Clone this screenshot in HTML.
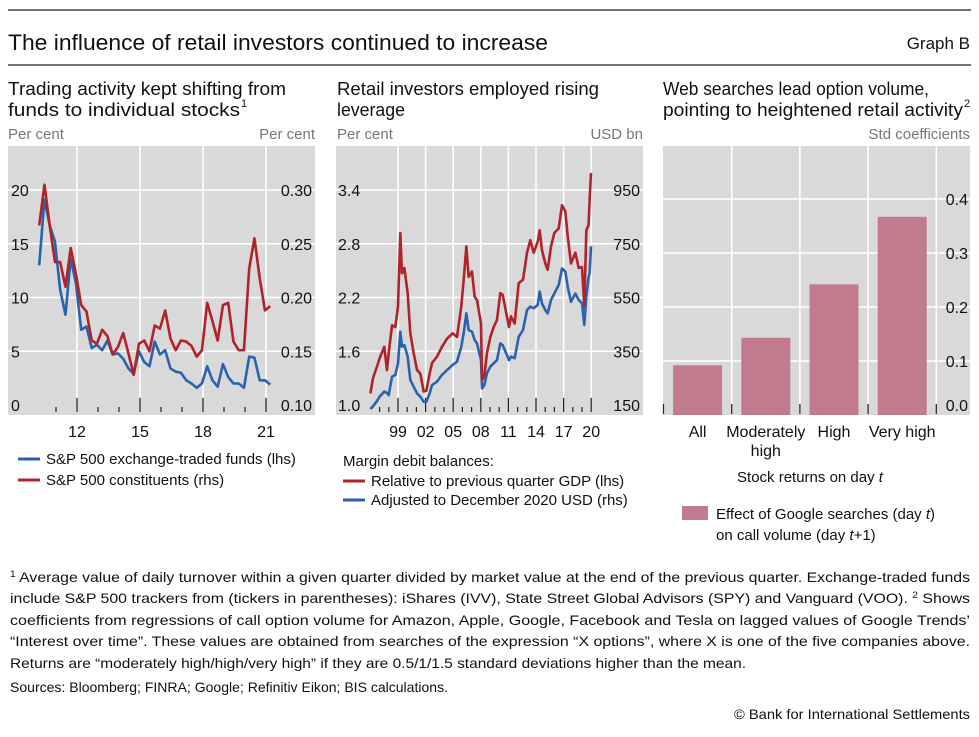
<!DOCTYPE html>
<html><head><meta charset="utf-8"><style>
body{margin:0;background:#fff}
svg{display:block;font-family:"Liberation Sans",sans-serif}
</style></head><body>
<svg id="s" width="979" height="737" viewBox="0 0 979 737" xmlns="http://www.w3.org/2000/svg">
<line x1="8" y1="10" x2="971" y2="10" stroke="#222" stroke-width="1.2"/>
<text x="8" y="50" font-size="22" textLength="540" lengthAdjust="spacingAndGlyphs" fill="#111">The influence of retail investors continued to increase</text>
<text x="970" y="49" font-size="17" text-anchor="end" fill="#111">Graph B</text>
<line x1="8" y1="65" x2="971" y2="65" stroke="#222" stroke-width="1.2"/>

<g font-size="18" fill="#111">
<text x="8" y="95" textLength="278" lengthAdjust="spacingAndGlyphs">Trading activity kept shifting from</text>
<text x="8" y="116" textLength="232" lengthAdjust="spacingAndGlyphs">funds to individual stocks</text>
<text x="241" y="107" font-size="11">1</text>
<text x="337" y="95" textLength="262" lengthAdjust="spacingAndGlyphs">Retail investors employed rising</text>
<text x="337" y="116" textLength="68" lengthAdjust="spacingAndGlyphs">leverage</text>
<text x="663" y="95" textLength="266" lengthAdjust="spacingAndGlyphs">Web searches lead option volume,</text>
<text x="663" y="116" textLength="300" lengthAdjust="spacingAndGlyphs">pointing to heightened retail activity</text>
<text x="964" y="107" font-size="11">2</text>
</g>
<g font-size="15" fill="#777">
<text x="8" y="139">Per cent</text>
<text x="315" y="139" text-anchor="end">Per cent</text>
<text x="337" y="139">Per cent</text>
<text x="643" y="139" text-anchor="end">USD bn</text>
<text x="970" y="139" text-anchor="end">Std coefficients</text>
</g>
<g id="p1"></g>
<g id="p2"></g>
<g id="p3"></g>

<g font-size="15" fill="#111">
<line x1="18" y1="459" x2="40" y2="459" stroke="#2a62b0" stroke-width="3"/>
<text x="46" y="464">S&amp;P 500 exchange-traded funds (lhs)</text>
<line x1="18" y1="480" x2="40" y2="480" stroke="#b0232a" stroke-width="3"/>
<text x="46" y="485">S&amp;P 500 constituents (rhs)</text>
<text x="343" y="466">Margin debit balances:</text>
<line x1="343" y1="481" x2="365" y2="481" stroke="#b0232a" stroke-width="3"/>
<text x="371" y="486">Relative to previous quarter GDP (lhs)</text>
<line x1="343" y1="500" x2="365" y2="500" stroke="#2a62b0" stroke-width="3"/>
<text x="371" y="505">Adjusted to December 2020 USD (rhs)</text>
<text x="810" y="482" text-anchor="middle">Stock returns on day <tspan font-style="italic">t</tspan></text>
<rect x="682" y="506" width="26" height="14" fill="#c27b8e"/>
<text x="716" y="519">Effect of Google searches (day <tspan font-style="italic">t</tspan>)</text>
<text x="716" y="540">on call volume (day <tspan font-style="italic">t</tspan>+1)</text>
</g>

<g font-size="14" fill="#111">
<text x="10" y="582" textLength="960" lengthAdjust="spacingAndGlyphs"><tspan font-size="9" dy="-5">1</tspan><tspan dy="5">  Average value of daily turnover within a given quarter divided by market value at the end of the previous quarter. Exchange-traded funds</tspan></text>
<text x="10" y="603" textLength="960" lengthAdjust="spacingAndGlyphs">include S&amp;P 500 trackers from (tickers in parentheses): iShares (IVV), State Street Global Advisors (SPY) and Vanguard (VOO).  <tspan font-size="9" dy="-5">2</tspan><tspan dy="5"> Shows</tspan></text>
<text x="10" y="625" textLength="960" lengthAdjust="spacingAndGlyphs">coefficients from regressions of call option volume for Amazon, Apple, Google, Facebook and Tesla on lagged values of Google Trends’</text>
<text x="10" y="646" textLength="960" lengthAdjust="spacingAndGlyphs">“Interest over time”. These values are obtained from searches of the expression “X options”, where X is one of the five companies above.</text>
<text x="10" y="668" textLength="736" lengthAdjust="spacingAndGlyphs">Returns are “moderately high/high/very high” if they are 0.5/1/1.5 standard deviations higher than the mean.</text>
<text x="10" y="692" textLength="438" lengthAdjust="spacingAndGlyphs">Sources: Bloomberg; FINRA; Google; Refinitiv Eikon; BIS calculations.</text>
<text x="970" y="719" text-anchor="end" textLength="236" lengthAdjust="spacingAndGlyphs">© Bank for International Settlements</text>
</g>
</svg>
<script>
// Panel 1 data (quarterly from 2010.2)
const p1Start = 2010.2;
const p1Etf = [13.0,19.1,16.7,15.2,10.7,8.4,13.6,11.3,7.0,7.3,5.3,5.6,5.1,6.0,4.7,4.8,4.3,3.4,2.9,5.0,4.0,3.6,5.9,4.7,5.1,3.4,3.1,3.0,2.3,2.0,1.6,2.0,3.6,2.3,1.7,3.8,2.6,2.0,2.0,1.6,4.5,4.4,2.3,2.3,1.9];
const p1Const = [0.267,0.305,0.267,0.233,0.233,0.210,0.246,0.222,0.193,0.187,0.160,0.157,0.170,0.164,0.147,0.154,0.167,0.148,0.128,0.157,0.160,0.150,0.174,0.171,0.188,0.162,0.151,0.160,0.159,0.155,0.145,0.151,0.195,0.178,0.160,0.193,0.195,0.159,0.151,0.151,0.227,0.255,0.218,0.188,0.192];
const p1LeftTicks = [0,5,10,15,20];
const p1RightTicks = ["0.10","0.15","0.20","0.25","0.30"];
const p1XLabels = [12,15,18,21];
// Panel 2 data
const p2Years = [1996.0,1996.28,1996.72,1997.0,1997.51,1997.8,1997.99,1998.35,1998.71,1999.0,1999.25,1999.43,1999.69,2000.05,2000.34,2000.7,2001.07,2001.43,2001.79,2002.08,2002.44,2002.7,2003.24,2003.78,2004.33,2004.94,2005.41,2005.88,2006.14,2006.43,2006.68,2007.04,2007.33,2007.59,2008.02,2008.13,2008.38,2008.67,2009.04,2009.4,2009.76,2010.12,2010.38,2011.07,2011.28,2011.68,2012.12,2012.59,2013.02,2013.38,2013.75,2014.18,2014.4,2014.65,2015.01,2015.27,2015.63,2015.99,2016.46,2016.83,2017.19,2017.45,2017.8,2018.28,2018.64,2019.0,2019.25,2019.47,2019.72,2019.83,2019.98];
const p2Gdp = [1.13,1.30,1.43,1.52,1.65,1.39,1.58,1.89,1.87,2.10,2.92,2.47,2.53,2.25,1.80,1.58,1.39,1.35,1.15,1.16,1.35,1.47,1.54,1.65,1.74,1.80,1.76,2.10,2.40,2.77,2.43,2.49,2.21,2.17,1.91,1.28,1.32,1.58,1.76,1.87,1.95,2.25,2.23,1.87,1.99,1.91,2.36,2.40,2.70,2.84,2.70,2.82,2.95,2.73,2.58,2.51,2.77,2.92,2.97,3.23,3.16,2.88,2.58,2.70,2.53,2.54,2.10,2.95,3.01,3.29,3.59];
const p2Usd = [135,145,165,181,200,195,187,255,262,305,423,367,373,330,243,218,193,181,162,162,193,224,237,262,280,299,311,367,417,491,429,423,392,379,317,212,224,268,293,305,317,379,373,317,330,324,404,429,503,516,510,522,572,528,503,491,541,565,596,658,646,590,534,565,541,528,448,553,627,640,741];
const p2LeftTicks = ["1.0","1.6","2.2","2.8","3.4"];
const p2RightTicks = [150,350,550,750,950];
const p2XLabels = ["99","02","05","08","11","14","17","20"];
// Panel 3 data
const p3Cats = ["All","Moderately|high","High","Very high"];
const p3Vals = [0.092,0.143,0.242,0.367];
const p3Ticks = ["0.0","0.1","0.2","0.3","0.4"];

const NS="http://www.w3.org/2000/svg";
function mk(parent,tag,attrs,txt){const e=document.createElementNS(NS,tag);for(const k in attrs)e.setAttribute(k,attrs[k]);if(txt!==undefined)e.textContent=txt;parent.appendChild(e);return e;}

// ---- Panel 1
(function(){
const g=document.getElementById('p1');
const X0=8,X1=315,T=146,B=415;
const xs=yr=>77+(yr-2012)*21;
const yl=v=>405-v*(215/20);
const yr_=v=>405-(v-0.10)*(215/0.20);
const bg=mk(g,'rect',{x:X0,y:T,width:X1-X0,height:B-T,fill:'#d9d9d9'});


p1LeftTicks.forEach((v,i)=>{
 const y=yl(v);
 if(i>0){const l=mk(g,'line',{x1:X0,x2:X1,y1:y,y2:y,stroke:'#fff','stroke-width':1.5});
 
 }
 const t=mk(g,'text',{x:11,y:y+6,'font-size':16,fill:'#111'},v);
 
 
 const t2=mk(g,'text',{x:312,y:y+6,'font-size':16,fill:'#111','text-anchor':'end'},p1RightTicks[i]);
 
 
});
p1XLabels.forEach(v=>{
 const x=xs(2000+v);
 const l=mk(g,'line',{x1:x,x2:x,y1:T,y2:B-18,stroke:'#fff','stroke-width':1.5});
 
 
 const t=mk(g,'text',{x:x,y:437,'font-size':16,fill:'#111','text-anchor':'middle'},v);
 
 
});
for(let yr=2011;yr<=2021;yr++){
 const major=(yr-2012)%3===0;
 const x=xs(yr);
 const tk=mk(g,'line',{x1:x,x2:x,y1:major?398:407,y2:412,stroke:'#222','stroke-width':1.2});
 
 
}
const xq=i=>xs(p1Start+0.25*i);
const pe=mk(g,'polyline',{points:p1Etf.map((v,i)=>xq(i)+','+yl(v)).join(' '),fill:'none',stroke:'#2a62b0','stroke-width':2.6,'stroke-linejoin':'round'});


const pc=mk(g,'polyline',{points:p1Const.map((v,i)=>xq(i)+','+yr_(v)).join(' '),fill:'none',stroke:'#b0232a','stroke-width':2.6,'stroke-linejoin':'round'});


})();

// ---- Panel 2
(function(){
const g=document.getElementById('p2');
const X0=336,X1=643,T=146,B=415;
const xs=yr=>398+(yr-1999)*9.2;
const yl=v=>405-(v-1.0)*(215/2.4);
const yr_=v=>405-(v-150)*(215/800);
const bg=mk(g,'rect',{x:X0,y:T,width:X1-X0,height:B-T,fill:'#d9d9d9'});


p2LeftTicks.forEach((v,i)=>{
 const y=yl(parseFloat(v));
 if(i>0){const l=mk(g,'line',{x1:X0,x2:X1,y1:y,y2:y,stroke:'#fff','stroke-width':1.5});
 
 }
 const t=mk(g,'text',{x:338,y:y+6,'font-size':16,fill:'#111'},v);
 
 
 const t2=mk(g,'text',{x:640,y:y+6,'font-size':16,fill:'#111','text-anchor':'end'},p2RightTicks[i]);
 
 
});
p2XLabels.forEach(v=>{
 const n=parseInt(v,10);const yr=n>50?1900+n:2000+n;
 const x=xs(yr);
 const l=mk(g,'line',{x1:x,x2:x,y1:T,y2:B-18,stroke:'#fff','stroke-width':1.5});
 
 
 const t=mk(g,'text',{x:x,y:437,'font-size':16,fill:'#111','text-anchor':'middle'},v);
 
 
});
for(let yr=1997;yr<=2020;yr++){
 const major=(yr-1999)%3===0;
 const x=xs(yr);
 const tk=mk(g,'line',{x1:x,x2:x,y1:major?398:407,y2:412,stroke:'#222','stroke-width':1.2});
 
 
}
const pb=mk(g,'polyline',{points:p2Usd.map((v,i)=>xs(p2Years[i])+','+yr_(v)).join(' '),fill:'none',stroke:'#2a62b0','stroke-width':2.6,'stroke-linejoin':'round'});


const pr=mk(g,'polyline',{points:p2Gdp.map((v,i)=>xs(p2Years[i])+','+yl(v)).join(' '),fill:'none',stroke:'#b0232a','stroke-width':2.6,'stroke-linejoin':'round'});


})();

// ---- Panel 3
(function(){
const g=document.getElementById('p3');
const X0=663,X1=970,T=146,B=415;
const bandW=68.2, left=663.5;
const ys=v=>415-v*540;
const bg=mk(g,'rect',{x:X0,y:T,width:X1-X0,height:B-T,fill:'#d9d9d9'});


p3Ticks.forEach((v,i)=>{
 const y=ys(parseFloat(v));
 if(i>0){const l=mk(g,'line',{x1:X0,x2:X1,y1:y,y2:y,stroke:'#fff','stroke-width':1.5});
 
 }
 const t=mk(g,'text',{x:968,y:y+(i===0?-4:6),'font-size':16,fill:'#111','text-anchor':'end'},v);
 
 
});
for(let i=0;i<=p3Cats.length;i++){
 const x=left+i*bandW;
 if(i>0){const l=mk(g,'line',{x1:x,x2:x,y1:T,y2:B-10,stroke:'#fff','stroke-width':1.5});
 
 }
 const tk=mk(g,'line',{x1:x,x2:x,y1:404,y2:414,stroke:'#222','stroke-width':1.2});
 
 
}
p3Cats.forEach((c,i)=>{
 const cx=left+(i+0.5)*bandW;
 const r=mk(g,'rect',{x:cx-24.5,y:ys(p3Vals[i]),width:49,height:415-ys(p3Vals[i]),fill:'#c27b8e'});
 
 
 c.split('|').forEach((ln,j)=>{
  const t=mk(g,'text',{x:cx,y:437+j*19,'font-size':16,fill:'#111','text-anchor':'middle'},ln);
  
  
 });
});
})();
</script>
</body></html>
